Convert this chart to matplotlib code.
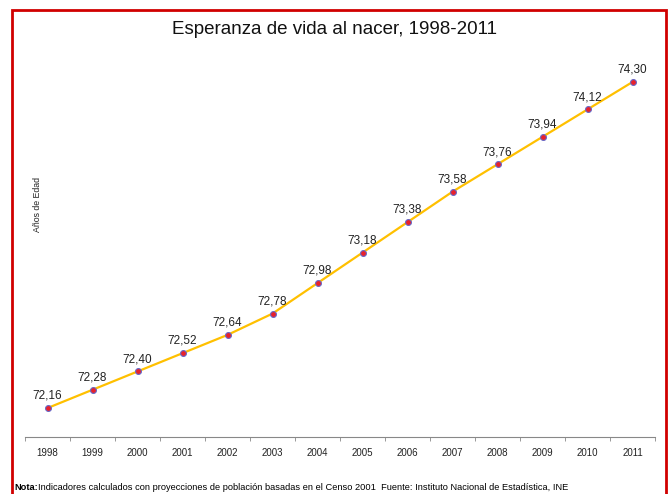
import numpy as np
import matplotlib.pyplot as plt
from matplotlib.patches import Rectangle

years = ["1998", "1999", "2000", "2001", "2002", "2003", "2004",
         "2005", "2006", "2007", "2008", "2009", "2010", "2011"]
esperanza = [72.16, 72.28, 72.40, 72.52, 72.64, 72.78, 72.98,
             73.18, 73.38, 73.58, 73.76, 73.94, 74.12, 74.30]

plt.rcParams["font.family"] = ["Liberation Sans Narrow", "Liberation Sans", "DejaVu Sans"]

fig = plt.figure(figsize=(6.7, 4.94), dpi=100)
ax = fig.add_axes([25/670, 1 - 437/494, 630/670, 387/494])

x = np.arange(len(years))
ax.plot(x, esperanza, color="#FFC000", lw=1.6, zorder=2)
ax.scatter(x, esperanza, s=18, color="#E8212B", edgecolor="#6A6AC8",
           linewidth=0.8, zorder=3)

for xi, v in zip(x, esperanza):
    ax.annotate(f"{v:.2f}".replace(".", ","), (xi, v), xytext=(0, 4.5),
                textcoords="offset points", ha="center", va="bottom",
                fontsize=8.5, color="#222222")

ax.set_xlim(-0.5, len(years) - 0.5)
ax.set_ylim(71.97, 74.51)
ax.set_xticks(x)
ax.set_xticklabels(years, fontsize=7)
ax.set_xticks(np.arange(-0.5, len(years)), minor=True)
ax.tick_params(axis="x", which="major", length=0, pad=8, colors="#222222")
ax.tick_params(axis="x", which="minor", length=3, color="#888888")
ax.set_yticks([])
for side in ["left", "right", "top"]:
    ax.spines[side].set_visible(False)
ax.spines["bottom"].set_color("#888888")

fig.text(38/670, 1 - 205/494, "Años de Edad", rotation=90, fontsize=6.3,
         ha="center", va="center", color="#222222")
fig.text(335/670, 1 - 29/494, "Esperanza de vida al nacer, 1998-2011",
         fontsize=13.5, ha="center", va="center", color="#111111")

fig.text(14/670, 1 - 487/494, "Nota:", fontsize=6.7, fontweight="bold",
         ha="left", va="center")
fig.text(38/670, 1 - 487/494,
         "Indicadores calculados con proyecciones de población basadas en el Censo 2001  Fuente: Instituto Nacional de Estadística, INE",
         fontsize=6.65, ha="left", va="center")

fig.patches.append(Rectangle((12.5/670, -0.05), 653.5/670, 1.05 - 10.5/494,
                             transform=fig.transFigure, fill=False,
                             edgecolor="#D00000", lw=2))

plt.savefig("out.png", dpi=100)
plt.close()
